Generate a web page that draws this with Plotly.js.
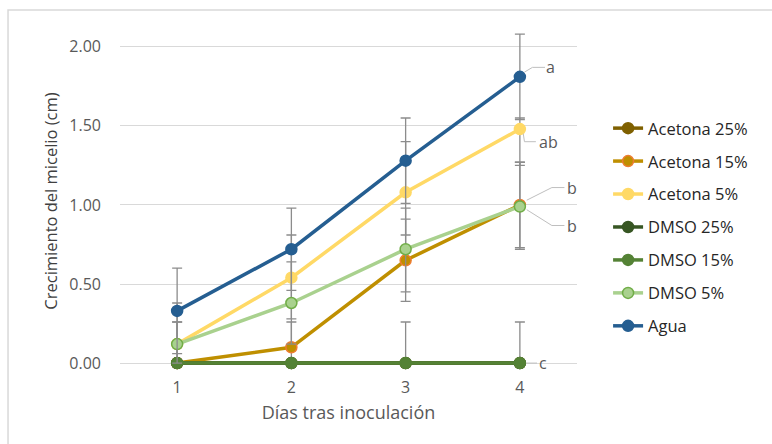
<!DOCTYPE html>
<html><head><meta charset="utf-8">
<script src="https://cdn.plot.ly/plotly-3.0.1.min.js"></script>
<style>body{margin:0;background:#fff}#c{width:772px;height:444px}</style>
</head><body><div id="c"></div>
<script>
const dias = [1, 2, 3, 4];
const names = ["Acetona 25%", "Acetona 15%", "Acetona 5%", "DMSO 25%", "DMSO 15%", "DMSO 5%", "Agua"];
const acetona25 = [0, 0, 0, 0];
const acetona15 = [0, 0.10, 0.65, 1.00];
const acetona5  = [0.12, 0.54, 1.08, 1.48];
const dmso25    = [0, 0, 0, 0];
const dmso15    = [0, 0, 0, 0];
const dmso5     = [0.12, 0.38, 0.72, 0.99];
const agua      = [0.33, 0.72, 1.28, 1.81];
// error bars (plus / minus)
const errPlus = {
  acetona25: [0, 0, 0, 0], acetona15: [0, 0.16, 0.26, 0.27], acetona5: [0.26, 0.27, 0.32, 0.07],
  dmso25: [0, 0, 0, 0], dmso15: [0.26, 0, 0.26, 0.26], dmso5: [0.14, 0.26, 0.26, 0.28], agua: [0.27, 0.26, 0.27, 0.27]
};
const errMinus = {
  acetona25: [0, 0, 0, 0], acetona15: [0, 0.10, 0.26, 0.27], acetona5: [0.12, 0.26, 0.27, 0.23],
  dmso25: [0, 0, 0, 0], dmso15: [0, 0, 0, 0], dmso5: [0.12, 0.26, 0.27, 0.27], agua: [0.27, 0.26, 0.27, 0.27]
};
const letras = ["a", "ab", "b", "b", "c"];

const series = [
  {k: "acetona25", y: acetona25, line: "#7F6000", fill: "#7F6000", edge: "#7F6000"},
  {k: "acetona15", y: acetona15, line: "#BF8F00", fill: "#BF8F00", edge: "#ED7D31"},
  {k: "acetona5",  y: acetona5,  line: "#FFD966", fill: "#FFD966", edge: "#FFD966"},
  {k: "dmso25",    y: dmso25,    line: "#375623", fill: "#375623", edge: "#375623"},
  {k: "dmso15",    y: dmso15,    line: "#548235", fill: "#548235", edge: "#548235"},
  {k: "dmso5",     y: dmso5,     line: "#A9D18E", fill: "#A9D18E", edge: "#70AD47"},
  {k: "agua",      y: agua,      line: "#255E91", fill: "#255E91", edge: "#255E91"}
];
const FONT = "Open Sans, sans-serif";
const traces = series.map((s, i) => ({
  type: "scatter", mode: "lines+markers", x: dias, y: s.y, name: names[i],
  legendgroup: "g" + i, cliponaxis: false,
  line: {color: s.line, width: 3.5},
  marker: {size: 11, color: s.fill, line: {color: s.edge, width: 1.5}},
  error_y: {type: "data", symmetric: false, array: errPlus[s.k], arrayminus: errMinus[s.k],
            color: "#8c8c8c", thickness: 1.3, width: 5}
}));

// leader lines for significance letters (data coordinates)
const lc = "#bfbfbf";
const shapes = [
  {type: "path", xref: "x", yref: "y", path: "M4.04,1.84 L4.11,1.87 L4.22,1.87", line: {color: lc, width: 1}},
  {type: "path", xref: "x", yref: "y", path: "M4.03,1.45 L4.04,1.40 L4.14,1.40", line: {color: lc, width: 1}},
  {type: "path", xref: "x", yref: "y", path: "M4.06,1.03 L4.28,1.11 L4.39,1.11", line: {color: lc, width: 1}},
  {type: "path", xref: "x", yref: "y", path: "M4.06,0.97 L4.28,0.87 L4.39,0.87", line: {color: lc, width: 1}},
  {type: "path", xref: "x", yref: "y", path: "M4.06,0 L4.15,0", line: {color: lc, width: 1}},
  {type: "rect", xref: "paper", yref: "paper", x0: -0.245, x1: 1.45, y0: -0.25, y1: 1.062,
   line: {color: "#d9d9d9", width: 1.5}, layer: "below"}
];
const letterPos = [[4.27, 1.87], [4.25, 1.40], [4.46, 1.11], [4.46, 0.87], [4.20, 0]];
const annotations = letras.map((t, i) => ({
  x: letterPos[i][0], y: letterPos[i][1], xref: "x", yref: "y", text: t, showarrow: false,
  xanchor: "center", yanchor: "middle", font: {family: FONT, size: 16, color: "#595959"}
}));

const layout = {
  width: 772, height: 444,
  margin: {l: 120, r: 195, t: 31, b: 73},
  paper_bgcolor: "#ffffff", plot_bgcolor: "#ffffff",
  showlegend: true,
  legend: {x: 1.068, xanchor: "left", y: 0.765, yanchor: "top", tracegroupgap: 8.5,
           font: {family: FONT, size: 16.5, color: "#262626"}, bgcolor: "rgba(0,0,0,0)"},
  xaxis: {range: [0.5, 4.5], tickvals: dias, ticktext: dias.map(String), showgrid: false, zeroline: false,
          showline: false, ticks: "", ticklabelstandoff: 5,
          tickfont: {family: FONT, size: 16, color: "#595959"},
          title: {text: "Días tras inoculación", font: {family: FONT, size: 18, color: "#595959"}, standoff: 9}},
  yaxis: {range: [-0.05, 2.1], tickvals: [0, 0.5, 1, 1.5, 2], tickformat: ".2f", showgrid: true,
          gridcolor: "#d9d9d9", gridwidth: 1, zeroline: false, showline: false, ticks: "",
          ticklabelstandoff: 18, tickfont: {family: FONT, size: 16, color: "#595959"},
          title: {text: "Crecimiento del micelio (cm)", font: {family: FONT, size: 16.5, color: "#404040"}, standoff: 7}},
  shapes: shapes, annotations: annotations
};
Plotly.newPlot("c", traces, layout, {displayModeBar: false, staticPlot: true});
</script></body></html>
